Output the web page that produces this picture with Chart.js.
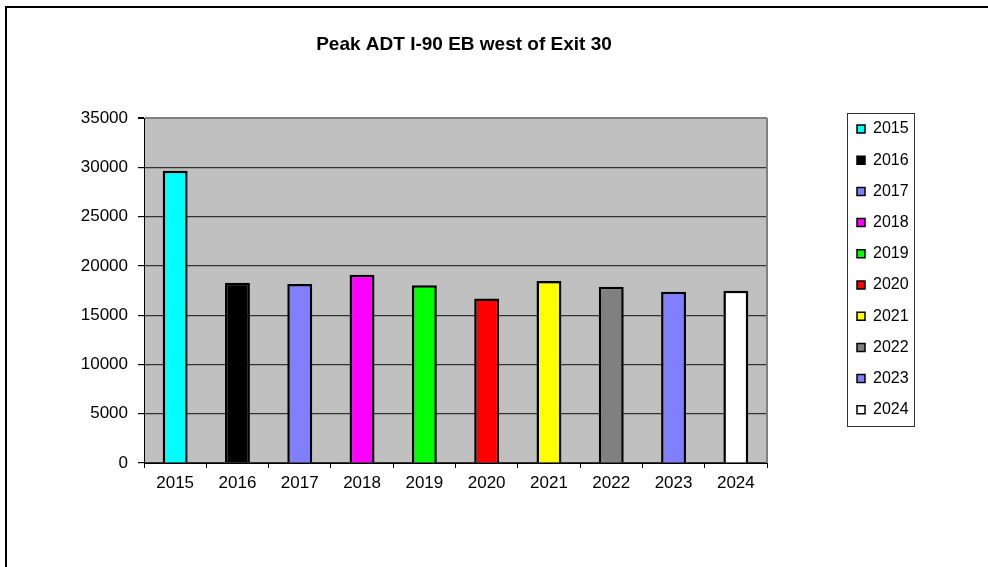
<!DOCTYPE html>
<html>
<head>
<meta charset="utf-8">
<script src="https://cdn.jsdelivr.net/npm/chart.js@4"></script>
<style>
    html, body { margin: 0; padding: 0; background: #fff; overflow: hidden; }
    #frame { position: absolute; left: 5px; top: 6px; width: 1200px; height: 800px;
             border-top: 2px solid #000; border-left: 2px solid #000; }
    #wrap { position: absolute; left: 0; top: 0; width: 988px; height: 567px; }
</style>
</head>
<body>
<div id="frame"></div>
<div id="wrap"><canvas id="adtChart" width="988" height="567"></canvas></div>
<script>
// Chart data
const years = ['2015', '2016', '2017', '2018', '2019', '2020', '2021', '2022', '2023', '2024'];
const peakAdt = [29650, 18290, 18170, 19100, 18020, 16680, 18460, 17890, 17380, 17480];
const barColors = ['#00FFFF', '#000000', '#8080FF', '#FF00FF', '#00FF00',
                   '#FF0000', '#FFFF00', '#808080', '#8080FF', '#FFFFFF'];
const yTicks = [0, 5000, 10000, 15000, 20000, 25000, 30000, 35000];

const fontFamily = 'Arial, "Liberation Sans", sans-serif';

// legend frame in page pixels
const legendBox = { left: 847, top: 113, right: 914, bottom: 426 };

// Grey plot background, grey right border, legend frame
const excelLook = {
    id: 'excelLook',
    beforeDraw(chart) {
        const {ctx, chartArea: a} = chart;
        ctx.save();
        ctx.fillStyle = '#C0C0C0';
        ctx.fillRect(a.left, a.top, a.right - a.left, a.bottom - a.top);
        ctx.restore();
    },
    beforeDatasetsDraw(chart) {
        const {ctx, chartArea: a} = chart;
        ctx.save();
        ctx.strokeStyle = '#808080';
        ctx.lineWidth = 2;
        ctx.beginPath();
        ctx.moveTo(a.right, a.top);
        ctx.lineTo(a.right, a.bottom);
        ctx.stroke();
        ctx.restore();
    },
    afterLayout(chart) {
        // centre the title over the area it has in the original
        chart.titleBlock.left = 0;
        chart.titleBlock.right = 928;
        // move the legend items out to the right of the plot
        const lg = chart.legend;
        const pad = lg.options.labels.padding;
        lg.left = legendBox.left + 10 - pad;
        lg.top = legendBox.top + 8 - pad;
        lg.right = legendBox.right;
        lg.bottom = legendBox.bottom + 30;
        lg.width = lg.right - lg.left;
        lg.height = lg.bottom - lg.top;
    },
    afterDraw(chart) {
        const {ctx} = chart;
        ctx.save();
        ctx.strokeStyle = '#333';
        ctx.lineWidth = 1;
        ctx.strokeRect(legendBox.left + 0.5, legendBox.top + 0.5,
                       legendBox.right - legendBox.left, legendBox.bottom - legendBox.top);
        ctx.restore();
    }
};

new Chart(document.getElementById('adtChart'), {
    type: 'bar',
    data: {
        labels: years,
        datasets: [{
            label: 'Peak ADT',
            data: peakAdt,
            backgroundColor: barColors,
            borderColor: '#000',
            borderWidth: 2.5,
            barPercentage: 0.4,
            categoryPercentage: 1.0
        }]
    },
    options: {
        responsive: false,
        animation: false,
        layout: { padding: { left: 0, right: 221, top: 0, bottom: 0 } },
        scales: {
            x: {
                grid: { offset: true, drawOnChartArea: false, tickLength: 5, tickColor: '#000', tickWidth: 1 },
                border: { color: '#000', width: 1 },
                ticks: { color: '#000', padding: 5, font: { family: fontFamily, size: 17 } },
                afterFit: (scale) => { scale.height = 104; }
            },
            y: {
                min: 0,
                max: 35000,
                afterBuildTicks: (scale) => { scale.ticks = yTicks.map(v => ({ value: v })); },
                grid: {
                    color: (c) => (c.tick && c.tick.value === 35000 ? '#808080' : '#333'),
                    lineWidth: (c) => (c.tick && c.tick.value === 35000 ? 2 : 1.2),
                    tickLength: 6,
                    tickColor: '#000'
                },
                border: { color: '#000', width: 1 },
                ticks: {
                    color: '#000',
                    padding: 10,
                    font: { family: fontFamily, size: 17 },
                    callback: (value) => String(value)
                },
                afterFit: (scale) => { scale.width = 144; }
            }
        },
        plugins: {
            title: {
                display: true,
                text: 'Peak ADT I-90 EB west of Exit 30',
                color: '#000',
                font: { family: fontFamily, size: 19, weight: 'bold', lineHeight: 1.2 },
                padding: { top: 33.6, bottom: 61.6 }
            },
            legend: {
                display: true,
                position: 'chartArea',
                align: 'start',
                labels: {
                    color: '#000',
                    font: { family: fontFamily, size: 16 },
                    boxWidth: 8,
                    boxHeight: 8,
                    padding: 15.2,
                    generateLabels: (chart) => {
                        const ds = chart.data.datasets[0];
                        return chart.data.labels.map((lbl, i) => ({
                            text: lbl,
                            fillStyle: ds.backgroundColor[i],
                            strokeStyle: '#000',
                            lineWidth: 1.5,
                            fontColor: '#000',
                            hidden: false,
                            index: i
                        }));
                    }
                }
            },
            tooltip: { enabled: false }
        }
    },
    plugins: [excelLook]
});
</script>
</body>
</html>
